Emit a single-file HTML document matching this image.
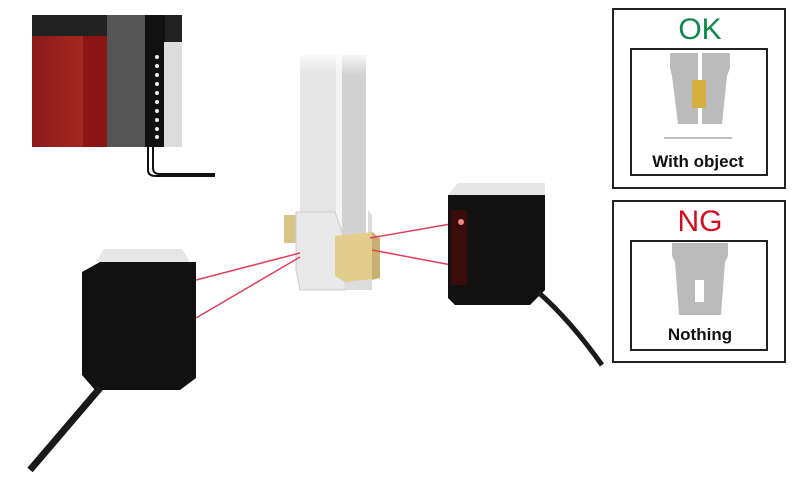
<!DOCTYPE html>
<html><head><meta charset="utf-8"><style>
html,body{margin:0;padding:0;background:#fff;width:800px;height:483px;overflow:hidden}
text{font-family:"Liberation Sans",Arial,sans-serif}
</style></head><body>
<svg width="800" height="483" viewBox="0 0 800 483" xmlns="http://www.w3.org/2000/svg">
<defs>
<linearGradient id="fade" x1="0" y1="0" x2="0" y2="1"><stop offset="0" stop-color="#fff" stop-opacity="1"/><stop offset="0.35" stop-color="#fff" stop-opacity="0"/></linearGradient>
<linearGradient id="red" x1="0" y1="0" x2="1" y2="0"><stop offset="0" stop-color="#8a1a1a"/><stop offset="1" stop-color="#b03020"/></linearGradient>
<linearGradient id="grey" x1="0" y1="0" x2="1" y2="0"><stop offset="0" stop-color="#999"/><stop offset="1" stop-color="#eee"/></linearGradient>
</defs>
<!-- PLC -->
<rect x="32" y="15" width="150" height="132" fill="#222"/>
<rect x="32" y="36" width="75" height="111" fill="url(#red)"/>
<rect x="83" y="36" width="24" height="111" fill="#8c1515"/>
<rect x="107" y="15" width="38" height="132" fill="#555"/>
<rect x="145" y="15" width="20" height="132" fill="#111"/>
<rect x="164" y="42" width="18" height="105" fill="#ddd"/>
<g fill="#eee"><circle cx="157" cy="57" r="2"/><circle cx="157" cy="66" r="2"/><circle cx="157" cy="75" r="2"/><circle cx="157" cy="84" r="2"/><circle cx="157" cy="93" r="2"/><circle cx="157" cy="102" r="2"/><circle cx="157" cy="111" r="2"/><circle cx="157" cy="120" r="2"/><circle cx="157" cy="129" r="2"/><circle cx="157" cy="137" r="2"/></g>
<path d="M148 147 V170 Q148 176 156 176 H215 M153 147 V168 Q153 174 160 174 H215" stroke="#111" stroke-width="2" fill="none"/>
<!-- rail -->
<rect x="300" y="55" width="42" height="190" fill="#e4e4e4"/>
<rect x="342" y="55" width="24" height="190" fill="#d2d2d2"/>
<rect x="336" y="55" width="6" height="190" fill="#f4f4f4"/>
<rect x="295" y="50" width="80" height="70" fill="url(#fade)"/>
<rect x="284" y="215" width="18" height="28" fill="#d9c48a"/>
<path d="M296 212 H335 L345 240 V290 H300 L296 270 Z" fill="#e8e8e8" stroke="#ccc"/>
<path d="M340 240 H368 V210 L372 215 V290 H345 Z" fill="#dcdcdc"/>
<path d="M335 236 L372 232 L380 238 V278 L345 282 L335 276 Z" fill="#e2cc8e"/>
<path d="M372 232 L380 238 V278 L372 280 Z" fill="#c8b070"/>
<!-- lasers -->
<g stroke="#e0405a" stroke-width="1.5" fill="none">
<line x1="196" y1="280" x2="300" y2="253"/><line x1="196" y1="318" x2="300" y2="257"/>
<line x1="370" y1="238" x2="462" y2="222"/><line x1="372" y1="250" x2="462" y2="267"/>
</g>
<!-- left sensor -->
<path d="M100 262 L82 272 V375 L95 390 H180 L196 378 V262 Z" fill="#111"/>
<path d="M96 262 L104 249 H182 L190 262 Z" fill="#e6e6e6"/>
<path d="M100 388 L30 470" stroke="#1a1a1a" stroke-width="7" fill="none"/>
<!-- right sensor -->
<path d="M448 195 H545 V290 L530 305 H455 L448 298 Z" fill="#111"/>
<path d="M448 195 L458 183 H545 V195 Z" fill="#e6e6e6"/>
<rect x="451" y="210" width="16" height="75" fill="#3a0b0b"/>
<circle cx="461" cy="222" r="3" fill="#e88"/>
<path d="M538 292 Q570 320 602 365" stroke="#1a1a1a" stroke-width="5" fill="none"/>
<!-- OK panel -->
<rect x="613" y="9" width="172" height="179" fill="#fff" stroke="#222" stroke-width="2"/>
<rect x="631" y="49" width="136" height="126" fill="#fff" stroke="#222" stroke-width="2"/>
<text x="700" y="39" font-size="30" fill="#0c8a4a" text-anchor="middle">OK</text>
<path d="M670 53 H730 V68 L727 76 L722 124 H678 L672 76 L670 68 Z" fill="#bbb"/>
<rect x="698" y="53" width="4" height="80" fill="#fff"/>
<rect x="692" y="80" width="14" height="28" fill="#d4b040"/>
<line x1="664" y1="138" x2="732" y2="138" stroke="#777"/>
<text x="698" y="167" font-size="17" font-weight="bold" text-anchor="middle" fill="#111">With object</text>
<!-- NG panel -->
<rect x="613" y="201" width="172" height="161" fill="#fff" stroke="#222" stroke-width="2"/>
<rect x="631" y="241" width="136" height="109" fill="#fff" stroke="#222" stroke-width="2"/>
<text x="700" y="231" font-size="30" fill="#d01020" text-anchor="middle">NG</text>
<path d="M672 243 H728 V256 L725 262 L721 315 H679 L675 262 L672 256 Z" fill="#bbb"/>
<rect x="695" y="280" width="9" height="22" fill="#fff"/>
<text x="700" y="340" font-size="17" font-weight="bold" text-anchor="middle" fill="#111">Nothing</text>
</svg>
</body></html>
